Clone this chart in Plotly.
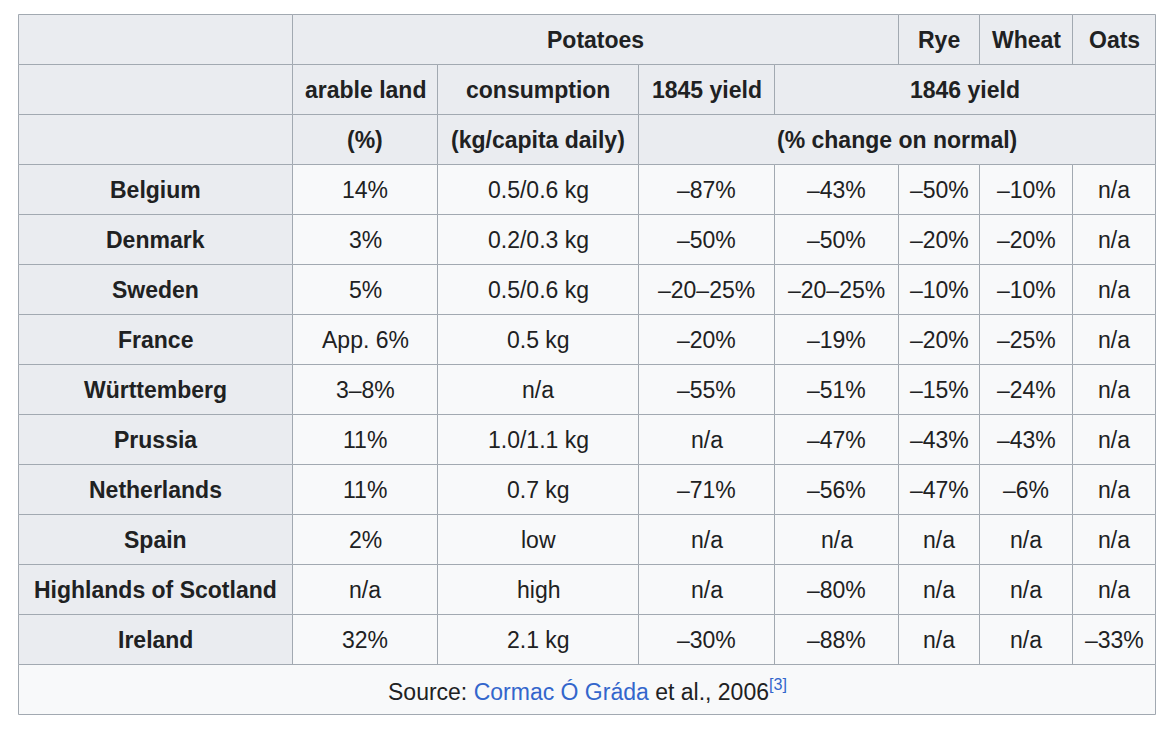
import plotly.graph_objects as go

# ---- data ----
countries = ["Belgium", "Denmark", "Sweden", "France", "Württemberg", "Prussia",
             "Netherlands", "Spain", "Highlands of Scotland", "Ireland"]
arable_land = ["14%", "3%", "5%", "App. 6%", "3–8%", "11%", "11%", "2%", "n/a", "32%"]
consumption = ["0.5/0.6 kg", "0.2/0.3 kg", "0.5/0.6 kg", "0.5 kg", "n/a", "1.0/1.1 kg",
               "0.7 kg", "low", "high", "2.1 kg"]
yield_1845 = ["–87%", "–50%", "–20–25%", "–20%", "–55%", "n/a", "–71%", "n/a", "n/a", "–30%"]
yield_1846 = ["–43%", "–50%", "–20–25%", "–19%", "–51%", "–47%", "–56%", "n/a", "–80%", "–88%"]
rye = ["–50%", "–20%", "–10%", "–20%", "–15%", "–43%", "–47%", "n/a", "n/a", "n/a"]
wheat = ["–10%", "–20%", "–10%", "–25%", "–24%", "–43%", "–6%", "n/a", "n/a", "n/a"]
oats = ["n/a", "n/a", "n/a", "n/a", "n/a", "n/a", "n/a", "n/a", "n/a", "–33%"]

# header rows: (label, first column, last column)
header_row1 = [("", 0, 0), ("Potatoes", 1, 4), ("Rye", 5, 5), ("Wheat", 6, 6), ("Oats", 7, 7)]
header_row2 = [("", 0, 0), ("arable land", 1, 1), ("consumption", 2, 2),
               ("1845 yield", 3, 3), ("1846 yield", 4, 7)]
header_row3 = [("", 0, 0), ("(%)", 1, 1), ("(kg/capita daily)", 2, 2),
               ("(% change on normal)", 3, 7)]
source_prefix = "Source: "
source_author = "Cormac Ó Gráda"
source_suffix = " et al., 2006"
source_ref = "[3]"

# ---- layout constants ----
OFF = 8                      # page body margin
W, H = 1168 - 2 * OFF, 732 - 2 * OFF
col_edges = [p - OFF for p in [18.5, 292.5, 437.5, 638.5, 774.5, 898.5, 979.5, 1072.5, 1155.5]]
top = 14.5 - OFF
row_h = 50
HEAD_BG = "#eaecf0"
BODY_BG = "#f8f9fa"
BORDER = "#a2a9b1"
TEXT = "#202122"
LINK = "#3366cc"
FONT = "Liberation Sans"
FS = 23

fig = go.Figure()
fig.add_trace(go.Scatter(x=[0, W], y=[0, H], mode="markers",
                         marker=dict(opacity=0), hoverinfo="skip", showlegend=False))

shapes = []
annotations = []


def cell(c0, c1, r, text, bg, bold=False, color=TEXT):
    x0, x1 = col_edges[c0], col_edges[c1 + 1]
    y0, y1 = top + r * row_h, top + (r + 1) * row_h
    shapes.append(dict(type="rect", xref="x", yref="y", x0=x0, x1=x1, y0=y0, y1=y1,
                       fillcolor=bg, line=dict(color=BORDER, width=1), layer="below"))
    if text:
        annotations.append(dict(xref="x", yref="y", x=(x0 + x1) / 2, y=(y0 + y1) / 2,
                                text=text, showarrow=False, xanchor="center", yanchor="middle",
                                font=dict(family=FONT, size=FS, color=color,
                                          weight="bold" if bold else "normal")))


for r, row in enumerate([header_row1, header_row2, header_row3]):
    for label, c0, c1 in row:
        cell(c0, c1, r, label, HEAD_BG, bold=True)

body_cols = [arable_land, consumption, yield_1845, yield_1846, rye, wheat, oats]
for i, name in enumerate(countries):
    r = 3 + i
    cell(0, 0, r, name, HEAD_BG, bold=True)
    for j, col in enumerate(body_cols):
        cell(j + 1, j + 1, r, col[i], BODY_BG)

footer_text = (source_prefix + f"<span style='color:{LINK}'>{source_author}</span>"
               + source_suffix + f"<sup><span style='color:{LINK}'>{source_ref}</span></sup>")
cell(0, 7, 3 + len(countries), footer_text, BODY_BG)

fig.update_layout(
    width=W, height=H, margin=dict(l=0, r=0, t=0, b=0),
    paper_bgcolor="white", plot_bgcolor="white",
    xaxis=dict(range=[0, W], visible=False, fixedrange=True),
    yaxis=dict(range=[H, 0], visible=False, fixedrange=True),
    shapes=shapes, annotations=annotations, showlegend=False,
)

fig.write_html("out.html")
